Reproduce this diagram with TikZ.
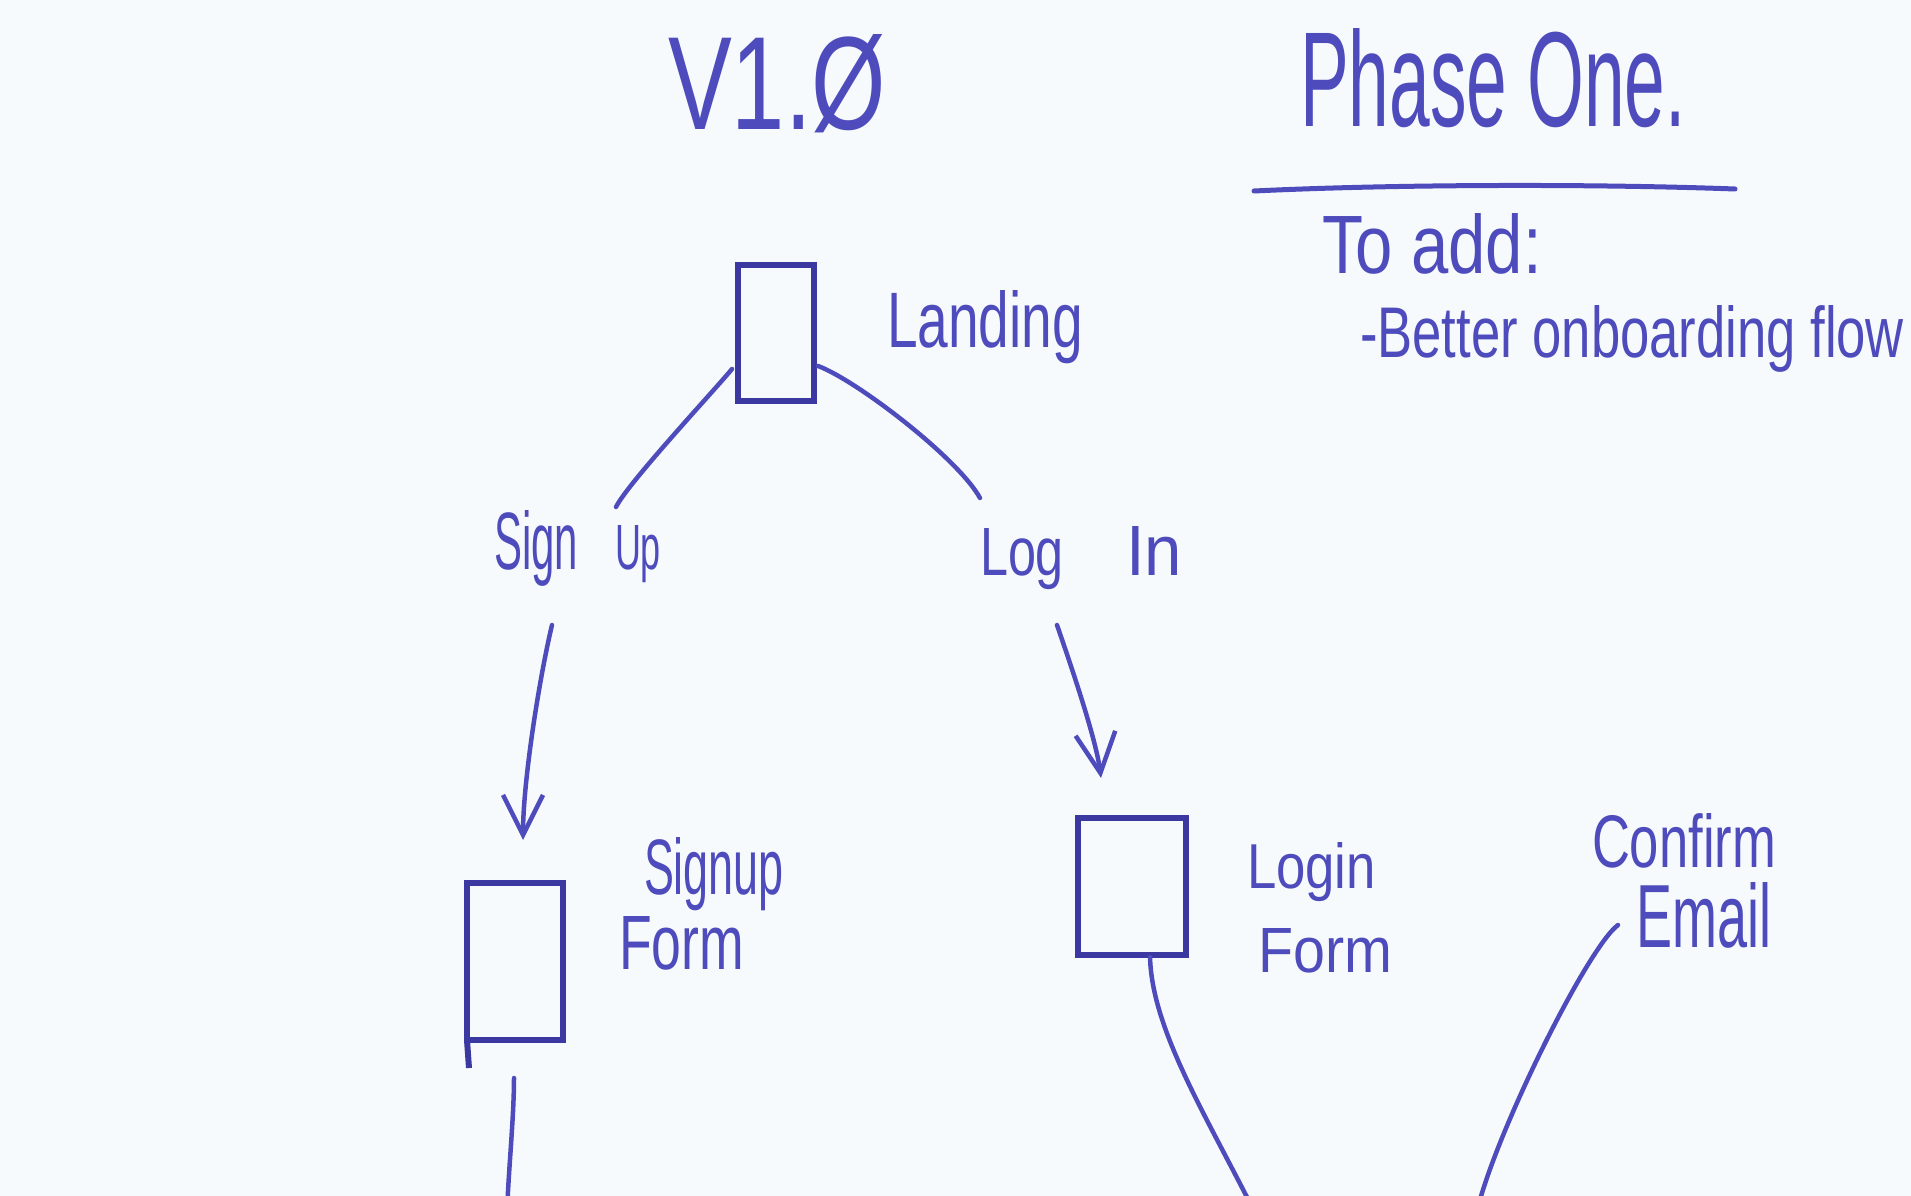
\documentclass[tikz,border=0pt]{standalone}
\usepackage{fontspec}
\setmainfont{Liberation Sans}
\usepackage{graphicx}
\usetikzlibrary{calc,arrows.meta}
\definecolor{ink}{RGB}{78,76,188}
\definecolor{inkdark}{RGB}{60,56,162}
\definecolor{paper}{RGB}{247,250,252}
\newcommand{\hw}[3]{\resizebox{#1pt}{#2pt}{#3}}
\begin{document}
\begin{tikzpicture}[x=1pt,y=-1pt,
  lbl/.style={inner sep=0pt, outer sep=0pt, text=ink, font=\fontsize{60pt}{60pt}\selectfont},
  screen/.style={draw=inkdark, line width=6pt, inner sep=0pt, outer sep=0pt, rectangle},
  conn/.style={draw=ink, line width=4.5pt, line cap=round},
  arr/.style={conn, -{Straight Barb[length=40pt,width=40pt]}}]
\fill[paper] (0,0) rectangle (1911,1196);
\useasboundingbox (0,0) rectangle (1911,1196);
\clip (0,0) rectangle (1911,1196);
% titles
\node[lbl, anchor=base west] (version) at (668,129) {\hw{218}{95}{V1.Ø}};
\node[lbl, anchor=base west] (phase) at (1300,127) {\hw{386}{98}{Phase One.}};
\draw[ink, line width=5pt, line cap=round] (1254,191) .. controls (1400,184) and (1600,184) .. (1735,189);
\node[lbl, anchor=base west] (toadd) at (1322,273) {\hw{220}{60}{To add:}};
\node[lbl, anchor=base west] (better) at (1360,357) {\hw{544}{52}{-Better onboarding flow}};
% screens
\node[screen, minimum width=76pt, minimum height=136pt] (landing) at (776,333) {};
\node[screen, minimum width=96pt, minimum height=157pt] (signupbox) at (515,961.5) {};
\node[screen, minimum width=108pt, minimum height=137pt] (loginbox) at (1132,886.5) {};
% labels
\node[lbl, anchor=base west] (landinglbl) at (887,347) {\hw{196}{57}{Landing}};
\node[lbl, anchor=base west] (signuplbl) at (494,569) {\hw{84}{59}{Sign}\hspace{37pt}\hw{46}{44}{Up}};
\node[lbl, anchor=base west] (loginlbl) at (980,575) {\hw{84}{47}{Log}\hspace{62pt}\hw{56}{49}{In}};
\node[lbl, anchor=base west] (signupform) at (619,969) {\vbox{\baselineskip=75pt\lineskiplimit=-\maxdimen
  \hbox{\hspace*{25pt}\hw{140}{57}{Signup}}\hbox{\hw{125}{53}{Form}}}};
\node[lbl, anchor=base west] (loginform) at (1247,972) {\vbox{\baselineskip=84pt\lineskiplimit=-\maxdimen
  \hbox{\hw{129}{46}{Login}}\hbox{\hspace*{11pt}\hw{134}{44}{Form}}}};
\node[lbl, anchor=base west] (confirmlbl) at (1592,947) {\vbox{\baselineskip=80pt\lineskiplimit=-\maxdimen
  \hbox{\hw{184}{54}{Confirm}}\hbox{\hspace*{44pt}\hw{135}{65}{Email}}}};
% free ends below the picture
\coordinate (signupend) at (507,1215);
\coordinate (loginend) at (1256,1215);
\coordinate (confirmend) at (1476,1215);
% connectors
\draw[conn] ($(landing.south west)+(-6,-32)$) .. controls +(-20,24) and +(12,-24) .. ($(signuplbl.north west)+(122,-3)$);
\draw[conn] ($(landing.south east)+(4,-35)$) .. controls +(38,14) and +(-22,-40) .. ($(loginlbl.north west)+(0,-28)$);
\draw[arr] ($(signuplbl.base west)+(58,56)$) .. controls +(-12,50) and +(0,-60) .. ($(signupbox.north)+(8,-43)$);
\draw[arr] ($(loginlbl.base west)+(77,50)$) .. controls +(12,35) and +(-5,-40) .. ($(loginbox.north)+(-31,-40)$);
\draw[draw=inkdark, line width=6pt] (signupbox.south west) -- ++(2,28);
\draw[conn] ($(signupbox.south)+(-1,38)$) .. controls +(0,40) and +(1,-40) .. (signupend);
\draw[conn] ($(loginbox.south)+(18,2)$) .. controls +(2,73) and +(-50,-100) .. (loginend);
\draw[conn] ($(confirmlbl.base west)+(26,-22)$) .. controls +(-30,22) and +(18,-80) .. (confirmend);
\end{tikzpicture}
\end{document}
